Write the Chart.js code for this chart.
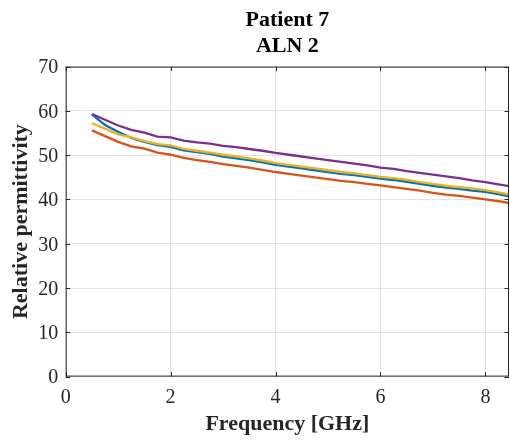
<!DOCTYPE html>
<html>
<head>
<meta charset="utf-8">
<script src="https://cdn.jsdelivr.net/npm/chart.js@4"></script>
<style>
  body { margin: 0; background: #fff; }
  canvas { display: block; }
</style>
</head>
<body>
<canvas id="chart" width="510" height="441"></canvas>
<script>
// Frequency points in GHz
const freq = [0.5, 0.75, 1.0, 1.25, 1.5, 1.75, 2.0, 2.25, 2.5, 2.75, 3.0, 3.25, 3.5, 3.75,
  4.0, 4.25, 4.5, 4.75, 5.0, 5.25, 5.5, 5.75, 6.0, 6.25, 6.5, 6.75, 7.0, 7.25, 7.5, 7.75,
  8.0, 8.25, 8.5];

// Relative permittivity, one array per measurement
const blueVals = [59.2, 56.8, 55.3, 53.9, 53.0, 52.3, 51.9, 51.1, 50.7, 50.3, 49.7, 49.3, 48.9, 48.4,
  47.8, 47.4, 47.0, 46.6, 46.2, 45.8, 45.5, 45.1, 44.7, 44.4, 44.0, 43.5, 43.1, 42.7, 42.4, 42.0,
  41.7, 41.2, 40.6];
const orangeVals = [55.6, 54.3, 53.0, 52.0, 51.5, 50.6, 50.1, 49.4, 48.9, 48.5, 48.0, 47.6, 47.2, 46.7,
  46.2, 45.8, 45.4, 45.0, 44.6, 44.2, 43.9, 43.5, 43.2, 42.8, 42.4, 42.0, 41.5, 41.1, 40.8, 40.4,
  40.0, 39.6, 39.1];
const yellowVals = [57.2, 56.0, 54.7, 54.0, 53.2, 52.5, 52.2, 51.4, 51.0, 50.6, 50.1, 49.7, 49.3, 48.8,
  48.2, 47.8, 47.4, 47.0, 46.6, 46.2, 45.9, 45.5, 45.1, 44.8, 44.4, 43.9, 43.5, 43.1, 42.8, 42.5,
  42.1, 41.6, 41.0];
const purpleVals = [59.3, 58.0, 56.7, 55.7, 55.1, 54.2, 54.0, 53.3, 52.9, 52.6, 52.1, 51.8, 51.4, 51.0,
  50.5, 50.1, 49.7, 49.3, 48.9, 48.5, 48.1, 47.7, 47.2, 46.9, 46.4, 46.0, 45.6, 45.2, 44.8, 44.3,
  43.9, 43.4, 42.9];

const xTicks = [0, 2, 4, 6, 8];
const yTicks = [0, 10, 20, 30, 40, 50, 60, 70];

const serif = "'Liberation Serif', 'Times New Roman', serif";
const axisColor = '#262626';

function toPoints(vals) {
  return vals.map((v, i) => ({ x: freq[i], y: v }));
}

function makeSet(vals, color, order) {
  return {
    data: toPoints(vals),
    borderColor: color,
    borderWidth: 2.3,
    pointRadius: 0,
    tension: 0,
    fill: false,
    order: order
  };
}

// Draw the axes box and inward tick marks, MATLAB style
const boxPlugin = {
  id: 'box',
  afterDatasetsDraw(chart) {
    const ctx = chart.ctx;
    const a = chart.chartArea;
    const xs = chart.scales.x;
    const ys = chart.scales.y;
    const len = 4.5;
    ctx.save();
    ctx.strokeStyle = axisColor;
    ctx.lineWidth = 1;
    ctx.strokeRect(a.left + 0.5, a.top + 0.5, a.right - a.left - 1, a.bottom - a.top - 1);
    ctx.beginPath();
    xTicks.forEach(t => {
      const px = Math.round(xs.getPixelForValue(t)) + 0.5;
      ctx.moveTo(px, a.bottom);
      ctx.lineTo(px, a.bottom - len);
      ctx.moveTo(px, a.top);
      ctx.lineTo(px, a.top + len);
    });
    yTicks.forEach(t => {
      const py = Math.round(ys.getPixelForValue(t)) + 0.5;
      ctx.moveTo(a.left, py);
      ctx.lineTo(a.left + len, py);
      ctx.moveTo(a.right, py);
      ctx.lineTo(a.right - len, py);
    });
    ctx.stroke();
    ctx.restore();
  }
};

const ctx = document.getElementById('chart').getContext('2d');
new Chart(ctx, {
  type: 'line',
  data: {
    datasets: [
      makeSet(blueVals, '#0072BD', 4),
      makeSet(orangeVals, '#D95319', 3),
      makeSet(yellowVals, '#EDB120', 2),
      makeSet(purpleVals, '#7E2F8E', 1)
    ]
  },
  options: {
    responsive: false,
    animation: false,
    layout: { padding: { left: 0, right: 1, top: 0, bottom: 0 } },
    plugins: {
      legend: { display: false },
      tooltip: { enabled: false },
      title: {
        display: true,
        fullSize: false,
        text: ['Patient 7', 'ALN 2'],
        color: '#000',
        font: { family: serif, size: 22, weight: 'bold', lineHeight: 1.18 },
        padding: { top: 7.5, bottom: 7.2 }
      }
    },
    scales: {
      x: {
        type: 'linear',
        min: 0,
        max: 8.45,
        afterFit(scale) { scale.height = 64.4; },
        ticks: {
          stepSize: 2,
          includeBounds: false,
          padding: 9.6,
          color: axisColor,
          font: { family: serif, size: 20 },
          maxRotation: 0
        },
        grid: { color: '#e3e3e3', drawTicks: false },
        border: { display: false },
        title: {
          display: true,
          text: 'Frequency [GHz]',
          color: axisColor,
          font: { family: serif, size: 22, weight: 'bold' },
          padding: { top: 0, bottom: 3.3 }
        }
      },
      y: {
        min: 0,
        max: 70,
        afterFit(scale) { scale.width = 65.7; },
        ticks: {
          stepSize: 10,
          padding: 7.4,
          labelOffset: 1.5,
          color: axisColor,
          font: { family: serif, size: 20 }
        },
        grid: { color: '#e3e3e3', drawTicks: false },
        border: { display: false },
        title: {
          display: true,
          text: 'Relative permittivity',
          color: axisColor,
          font: { family: serif, size: 22, weight: 'bold' },
          padding: { top: 8.3, bottom: 0 }
        }
      }
    }
  },
  plugins: [boxPlugin]
});
</script>
</body>
</html>
